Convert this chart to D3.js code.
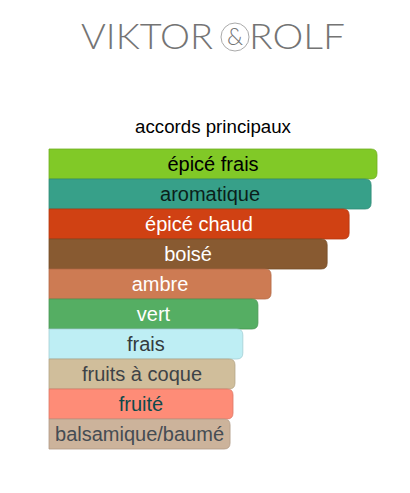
<!DOCTYPE html>
<html lang="fr">
<head>
<meta charset="utf-8">
<title>accords principaux</title>
<script src="https://cdn.jsdelivr.net/npm/d3@7"></script>
<style>
  body { margin: 0; background: #fff; }
  svg { display: block; font-family: "Liberation Sans", Arial, sans-serif; }
</style>
</head>
<body>
<script>
// accords, as % of the strongest one
var accords = ["épicé frais", "aromatique", "épicé chaud", "boisé", "ambre", "vert",
               "frais", "fruits à coque", "fruité", "balsamique/baumé"];
var values = [100, 98.2, 91.5, 84.8, 67.7, 63.7, 59.1, 56.7, 56.1, 55.2];
var fills = ["#81c927", "#37a089", "#d04113", "#885a31", "#cd7b53", "#55ae63",
             "#beeef4", "#d0be9b", "#fe8c77", "#ccb39b"];
var textColors = ["#000", "#0b1f1a", "#fff", "#fff", "#fff", "#fff",
                  "#333b3e", "#3e4347", "#0d4a4c", "#454c53"];

var w = 410, h = 493;
var barLeft = 49, barRight = 377, barTop = 149, barBottom = 449;

var svg = d3.select("body").append("svg")
    .attr("width", w)
    .attr("height", h);

// brand logo
var logo = svg.append("g")
    .attr("fill", "#747474")
    .attr("font-family", "Lato, 'Open Sans', 'DejaVu Sans', sans-serif")
    .attr("font-weight", 300)
    .attr("font-size", 35);
logo.append("text")
    .attr("x", 81).attr("y", 49)
    .attr("textLength", 132)
    .attr("lengthAdjust", "spacingAndGlyphs")
    .text("VIKTOR");
logo.append("circle")
    .attr("cx", 235).attr("cy", 37).attr("r", 14)
    .attr("fill", "none")
    .attr("stroke", "#aaa")
    .attr("stroke-width", 1);
logo.append("text")
    .attr("x", 235).attr("y", 45)
    .attr("text-anchor", "middle")
    .attr("font-size", 23)
    .text("&");
logo.append("text")
    .attr("x", 249).attr("y", 49)
    .attr("textLength", 96)
    .attr("lengthAdjust", "spacingAndGlyphs")
    .text("ROLF");

svg.append("text")
    .attr("x", 213).attr("y", 133)
    .attr("text-anchor", "middle")
    .attr("font-size", 18.7)
    .attr("fill", "#000")
    .text("accords principaux");

var x = d3.scaleLinear().domain([0, 100]).range([barLeft, barRight]);
var y = d3.scaleBand().domain(accords).range([barTop, barBottom]).padding(0);

function barPath(d, i) {
    var x0 = x(0), x1 = x(values[i]), y0 = y(d), bh = y.bandwidth(), r = 6;
    return "M" + x0 + "," + y0 +
        "H" + (x1 - r) +
        "Q" + x1 + "," + y0 + " " + x1 + "," + (y0 + r) +
        "V" + (y0 + bh - r) +
        "Q" + x1 + "," + (y0 + bh) + " " + (x1 - r) + "," + (y0 + bh) +
        "H" + x0 + "Z";
}

var bars = svg.selectAll("g.bar")
    .data(accords)
    .enter()
    .append("g")
    .attr("class", "bar");

bars.append("path")
    .attr("d", barPath)
    .attr("fill", function(d, i) { return fills[i]; })
    .attr("stroke", function(d, i) { return d3.color(fills[i]).darker(0.4); })
    .attr("stroke-width", 0.8);

bars.append("text")
    .attr("x", function(d, i) { return (x(0) + x(values[i])) / 2; })
    .attr("y", function(d) { return y(d) + 21.5; })
    .attr("text-anchor", "middle")
    .attr("font-size", 20)
    .attr("fill", function(d, i) { return textColors[i]; })
    .text(function(d) { return d; });
</script>
</body>
</html>
